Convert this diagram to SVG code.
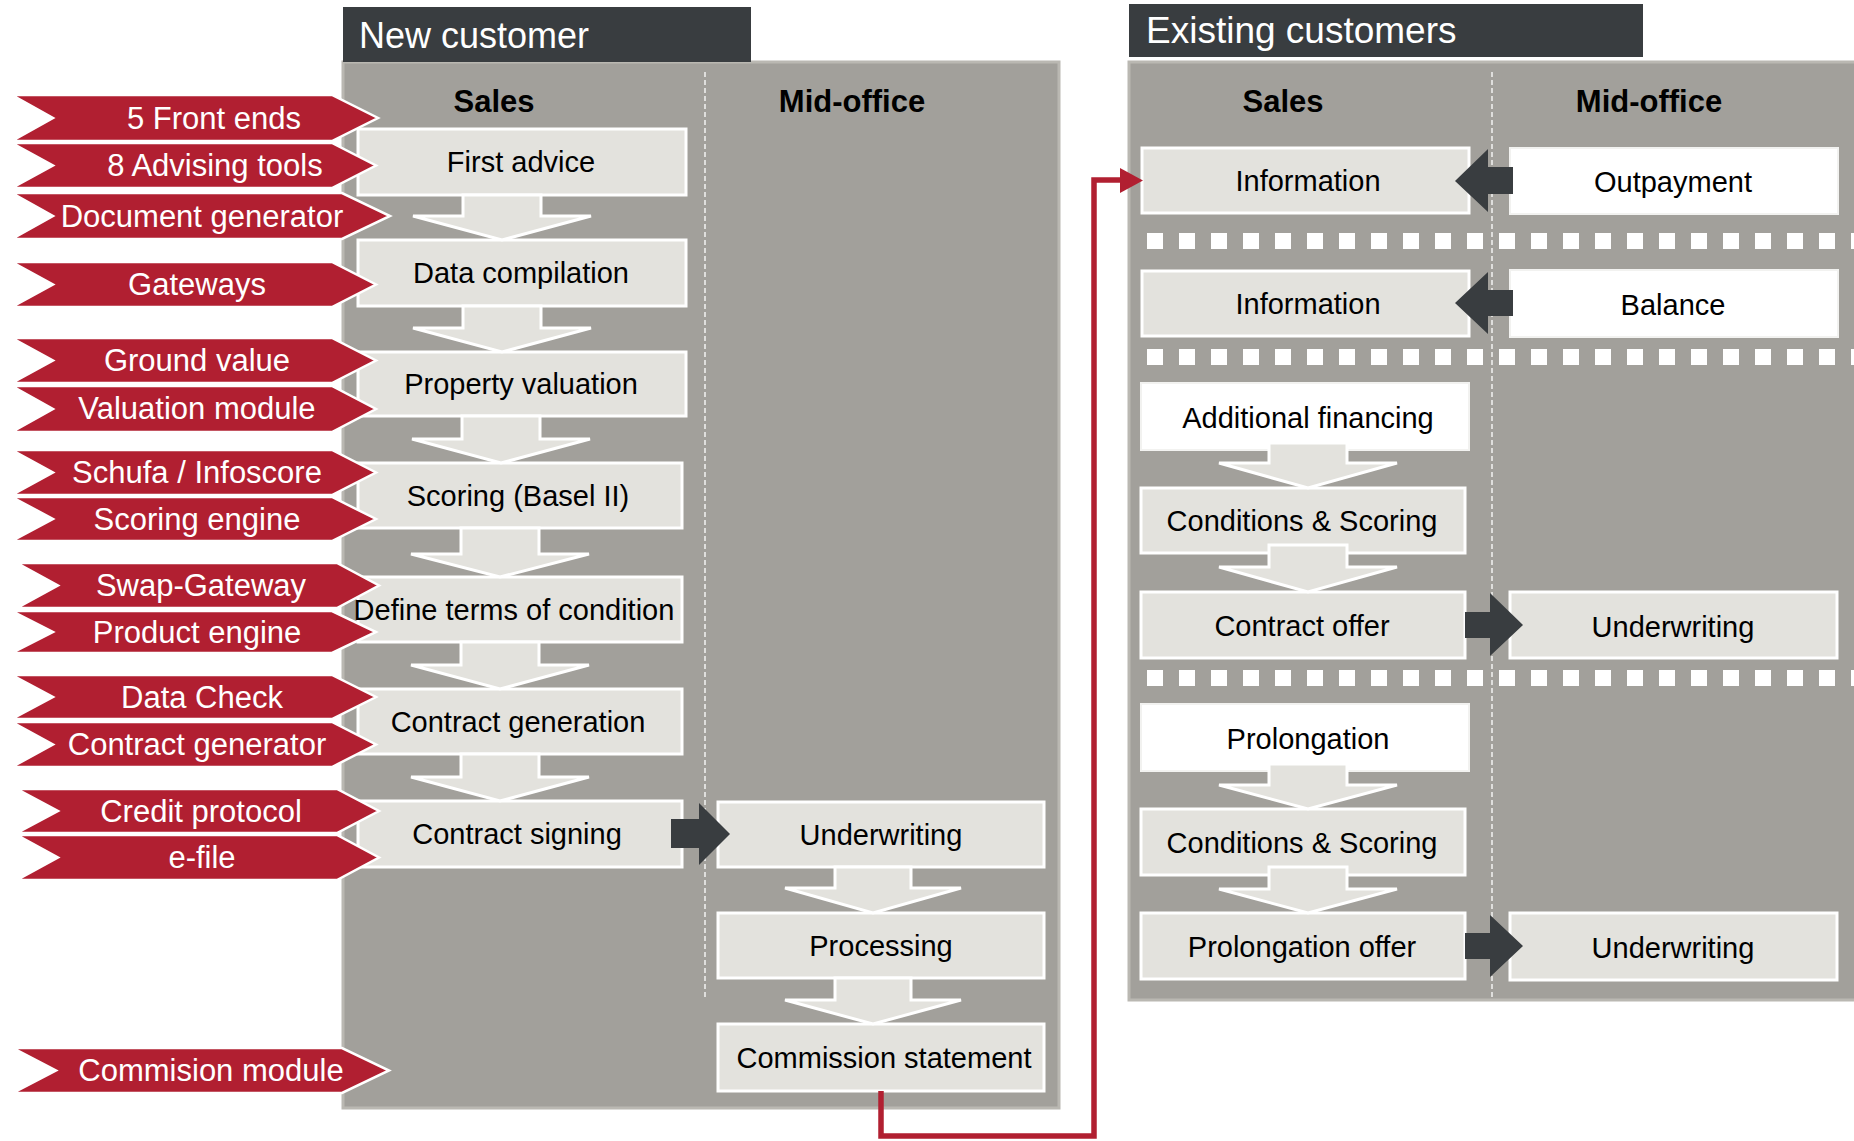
<svg xmlns="http://www.w3.org/2000/svg" width="1854" height="1141" viewBox="0 0 1854 1141">
<defs>
<style>
.panel{fill:#a2a09b;stroke:#bab8b2;stroke-width:3}
.hdr{fill:#393d40}
.hdrt{font-family:"Liberation Sans",Arial,sans-serif;font-size:36px;fill:#ffffff}
.col{font-family:"Liberation Sans",Arial,sans-serif;font-size:31px;font-weight:bold;fill:#000000;text-anchor:middle}
.div{stroke:#ffffff;stroke-width:1.3;stroke-dasharray:5 3;fill:none}
.sep{stroke:#ffffff;stroke-width:16;stroke-dasharray:16 16;stroke-dashoffset:16;fill:none}
.box{fill:#e3e2dd;stroke:#ffffff;stroke-width:3}
.wbox{fill:#ffffff;stroke:#f2f2f0;stroke-width:2}
.bt{font-family:"Liberation Sans",Arial,sans-serif;font-size:29px;fill:#000000;text-anchor:middle}
.dn{fill:#e3e2dd;stroke:#ffffff;stroke-width:3;stroke-linejoin:miter}
.dk{fill:#393d40}
.tag{fill:#b11f31;stroke:#ffffff;stroke-width:2.5;stroke-linejoin:miter}
.tt{font-family:"Liberation Sans",Arial,sans-serif;font-size:31px;fill:#ffffff;text-anchor:middle}
.red{fill:none;stroke:#b11f31;stroke-width:5.5}
</style>
</defs>
<rect width="1854" height="1141" fill="#ffffff"/>

<!-- Panels -->
<g id="panel-new">
<rect class="panel" x="343" y="62" width="716" height="1046"/>
<rect class="hdr" x="343" y="7" width="408" height="55"/>
<text class="hdrt" x="359" y="48">New customer</text>
<line class="div" x1="705" y1="72" x2="705" y2="999"/>
<text class="col" x="494" y="112">Sales</text>
<text class="col" x="852" y="112">Mid-office</text>
</g>
<g id="panel-existing">
<rect class="panel" x="1129" y="62" width="740" height="938"/>
<rect class="hdr" x="1129" y="4" width="514" height="53"/>
<text class="hdrt" x="1146" y="43" style="font-size:37px">Existing customers</text>
<line class="div" x1="1492" y1="72" x2="1492" y2="998"/>
<text class="col" x="1283" y="112">Sales</text>
<text class="col" x="1649" y="112">Mid-office</text>
<line class="sep" x1="1131" y1="241" x2="1854" y2="241"/>
<line class="sep" x1="1131" y1="357" x2="1854" y2="357"/>
<line class="sep" x1="1131" y1="678" x2="1854" y2="678"/>
</g>

<!-- New customer nodes -->
<g id="n-first-advice"><rect class="box" x="358" y="129" width="328" height="66"/></g>
<g id="n-data-compilation"><rect class="box" x="358" y="240" width="328" height="66"/></g>
<g id="n-property-valuation"><rect class="box" x="358" y="352" width="328" height="64"/></g>
<g id="n-scoring"><rect class="box" x="358" y="463" width="324" height="65"/></g>
<g id="n-define-terms"><rect class="box" x="358" y="577" width="324" height="65"/></g>
<g id="n-contract-generation"><rect class="box" x="358" y="689" width="324" height="65"/></g>
<g id="n-contract-signing"><rect class="box" x="358" y="801" width="324" height="66"/></g>
<g id="n-underwriting-new"><rect class="box" x="718" y="802" width="326" height="65"/></g>
<g id="n-processing"><rect class="box" x="718" y="913" width="326" height="65"/></g>
<g id="n-commission-statement"><rect class="box" x="718" y="1024" width="326" height="67"/></g>

<!-- Existing customer nodes -->
<g id="e-information-1"><rect class="box" x="1142" y="148" width="327" height="65"/></g>
<g id="e-outpayment"><rect class="wbox" x="1510" y="148" width="328" height="66"/></g>
<g id="e-information-2"><rect class="box" x="1142" y="271" width="327" height="65"/></g>
<g id="e-balance"><rect class="wbox" x="1510" y="270" width="328" height="67"/></g>
<g id="e-additional-financing"><rect class="wbox" x="1141" y="383" width="328" height="67"/></g>
<g id="e-conditions-1"><rect class="box" x="1141" y="488" width="324" height="65"/></g>
<g id="e-contract-offer"><rect class="box" x="1141" y="592" width="324" height="66"/></g>
<g id="e-underwriting-1"><rect class="box" x="1510" y="592" width="327" height="66"/></g>
<g id="e-prolongation"><rect class="wbox" x="1141" y="704" width="328" height="67"/></g>
<g id="e-conditions-2"><rect class="box" x="1141" y="809" width="324" height="66"/></g>
<g id="e-prolongation-offer"><rect class="box" x="1141" y="913" width="324" height="66"/></g>
<g id="e-underwriting-2"><rect class="box" x="1510" y="913" width="327" height="67"/></g>

<!-- Connectors -->
<g id="connectors">
<path class="dn" d="M463 195 H541 V216 H591 L502 240 L413 216 H463 Z"/>
<path class="dn" d="M463 306 H541 V328 H591 L502 352 L413 328 H463 Z"/>
<path class="dn" d="M462 416 H540 V439 H590 L501 463 L412 439 H462 Z"/>
<path class="dn" d="M461 528 H539 V554 H589 L500 577 L411 554 H461 Z"/>
<path class="dn" d="M461 642 H539 V665 H589 L500 689 L411 665 H461 Z"/>
<path class="dn" d="M461 754 H539 V777 H589 L500 801 L411 777 H461 Z"/>
<path class="dn" d="M835 867 H911 V888 H961 L873 913 L785 888 H835 Z"/>
<path class="dn" d="M835 978 H911 V1000 H961 L873 1024 L785 1000 H835 Z"/>
<path class="dn" d="M1269 443 H1347 V463 H1397 L1308 488 L1219 463 H1269 Z"/>
<path class="dn" d="M1269 545 H1347 V567 H1397 L1308 592 L1219 567 H1269 Z"/>
<path class="dn" d="M1269 764 H1347 V785 H1397 L1308 809 L1219 785 H1269 Z"/>
<path class="dn" d="M1269 867 H1347 V889 H1397 L1308 913 L1219 889 H1269 Z"/>
<path class="dk" d="M671 819 H699 V803 L730 834 L699 865 V848 H671 Z"/>
<path class="dk" d="M1513 167 H1488 V149 L1455 181 L1488 212 V194 H1513 Z"/>
<path class="dk" d="M1513 290 H1488 V272 L1455 303 L1488 334 V316 H1513 Z"/>
<path class="dk" d="M1465 612 H1490 V593 L1523 625 L1490 656 V638 H1465 Z"/>
<path class="dk" d="M1465 933 H1490 V915 L1523 946 L1490 977 V959 H1465 Z"/>
<path class="red" d="M881 1091 V1136 H1094 V180 H1122"/>
<polygon fill="#b11f31" points="1120,168 1143,180.5 1120,193"/>
</g>

<!-- Tags -->
<g id="t-front-ends"><path class="tag" d="M12 95 H332 L378 118 L332 141 H12 L53 118 Z"/><text class="tt" x="214" y="129">5 Front ends</text></g>
<g id="t-advising-tools"><path class="tag" d="M12 143 H332 L376 165.5 L332 188 H12 L53 165.5 Z"/><text class="tt" x="215" y="176">8 Advising tools</text></g>
<g id="t-document-generator"><path class="tag" d="M12 193 H342 L390 216 L342 239 H12 L53 216 Z"/><text class="tt" x="202" y="227">Document generator</text></g>
<g id="t-gateways"><path class="tag" d="M12 262 H332 L376 284.5 L332 307 H12 L53 284.5 Z"/><text class="tt" x="197" y="295">Gateways</text></g>
<g id="t-ground-value"><path class="tag" d="M12 338 H332 L376 360.5 L332 383 H12 L53 360.5 Z"/><text class="tt" x="197" y="371">Ground value</text></g>
<g id="t-valuation-module"><path class="tag" d="M12 386 H332 L376 409 L332 432 H12 L53 409 Z"/><text class="tt" x="197" y="419">Valuation module</text></g>
<g id="t-schufa"><path class="tag" d="M12 450 H332 L376 472.5 L332 495 H12 L53 472.5 Z"/><text class="tt" x="197" y="483">Schufa / Infoscore</text></g>
<g id="t-scoring-engine"><path class="tag" d="M12 497 H332 L376 519 L332 541 H12 L53 519 Z"/><text class="tt" x="197" y="530">Scoring engine</text></g>
<g id="t-swap-gateway"><path class="tag" d="M17 563 H337 L379 585.5 L337 608 H17 L58 585.5 Z"/><text class="tt" x="201" y="596">Swap-Gateway</text></g>
<g id="t-product-engine"><path class="tag" d="M12 611 H332 L376 632 L332 653 H12 L53 632 Z"/><text class="tt" x="197" y="643">Product engine</text></g>
<g id="t-data-check"><path class="tag" d="M12 675 H332 L376 697 L332 719 H12 L53 697 Z"/><text class="tt" x="202" y="708">Data Check</text></g>
<g id="t-contract-generator"><path class="tag" d="M12 722 H332 L376 744.5 L332 767 H12 L53 744.5 Z"/><text class="tt" x="197" y="755">Contract generator</text></g>
<g id="t-credit-protocol"><path class="tag" d="M17 789 H337 L379 811 L337 833 H17 L58 811 Z"/><text class="tt" x="201" y="822">Credit protocol</text></g>
<g id="t-efile"><path class="tag" d="M17 835 H337 L379 857.5 L337 880 H17 L58 857.5 Z"/><text class="tt" x="202" y="868">e-file</text></g>
<g id="t-commision-module"><path class="tag" d="M13 1048 H342 L389 1070.5 L342 1093 H13 L56 1070.5 Z"/><text class="tt" x="211" y="1081">Commision module</text></g>

<!-- Node labels -->
<g id="labels">
<text class="bt" x="521" y="172">First advice</text>
<text class="bt" x="521" y="283">Data compilation</text>
<text class="bt" x="521" y="394">Property valuation</text>
<text class="bt" x="518" y="506">Scoring (Basel II)</text>
<text class="bt" x="514" y="620">Define terms of condition</text>
<text class="bt" x="518" y="732">Contract generation</text>
<text class="bt" x="517" y="844">Contract signing</text>
<text class="bt" x="881" y="845">Underwriting</text>
<text class="bt" x="881" y="956">Processing</text>
<text class="bt" x="884" y="1068">Commission statement</text>
<text class="bt" x="1308" y="191">Information</text>
<text class="bt" x="1673" y="192">Outpayment</text>
<text class="bt" x="1308" y="314">Information</text>
<text class="bt" x="1673" y="315">Balance</text>
<text class="bt" x="1308" y="428">Additional financing</text>
<text class="bt" x="1302" y="531">Conditions &amp; Scoring</text>
<text class="bt" x="1302" y="636">Contract offer</text>
<text class="bt" x="1673" y="637">Underwriting</text>
<text class="bt" x="1308" y="749">Prolongation</text>
<text class="bt" x="1302" y="853">Conditions &amp; Scoring</text>
<text class="bt" x="1302" y="957">Prolongation offer</text>
<text class="bt" x="1673" y="958">Underwriting</text>
</g>
</svg>
